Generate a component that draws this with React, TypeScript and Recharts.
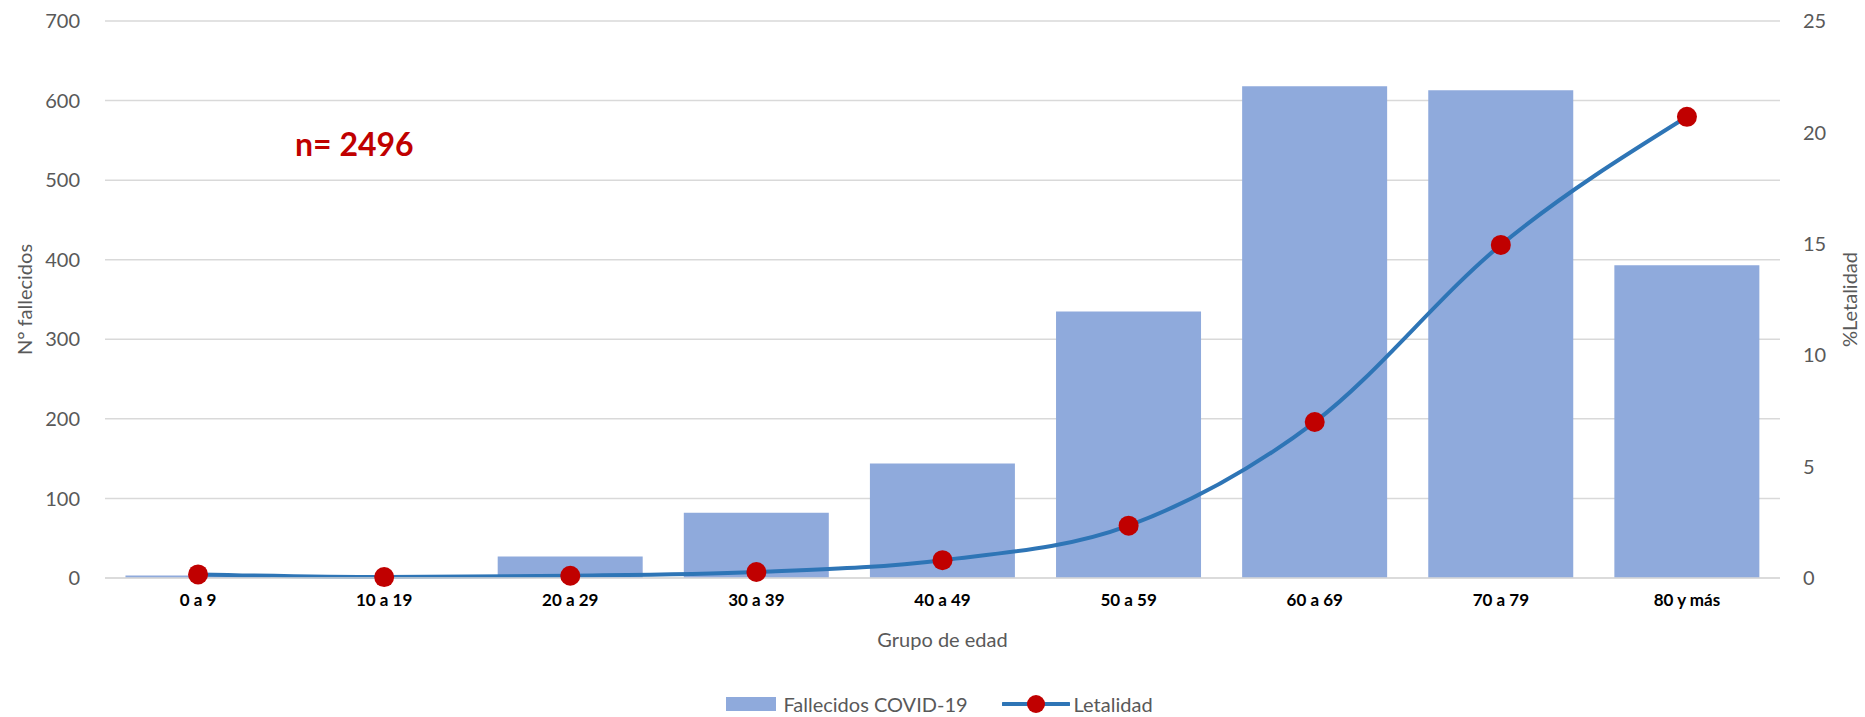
import React from 'react';
import { ComposedChart, Bar, Line, XAxis, YAxis, CartesianGrid, Legend } from 'recharts';

const grupos = ['0 a 9', '10 a 19', '20 a 29', '30 a 39', '40 a 49', '50 a 59', '60 a 69', '70 a 79', '80 y más'];
const fallecidos = [3, 1, 27, 82, 144, 335, 618, 613, 393];
const letalidad = [0.16, 0.04, 0.1, 0.27, 0.8, 2.35, 7.0, 14.95, 20.7];
const ticksIzq = [0, 100, 200, 300, 400, 500, 600, 700];
const ticksDer = [0, 5, 10, 15, 20, 25];

const data = grupos.map((g, i) => ({ name: g, fallecidos: fallecidos[i], letalidad: letalidad[i] }));

const gris = '#595959';
const fuente = 'Lato, "Open Sans", sans-serif';

const LeyendaCustom = () => (
    <div style={{ display: 'flex', alignItems: 'center', justifyContent: 'center', height: 26, fontFamily: fuente, fontSize: 20, color: gris, paddingLeft: 14 }}>
        <span style={{ display: 'inline-block', width: 50, height: 14, background: '#8faadc', marginRight: 7 }} />
        <span style={{ marginRight: 34 }}>Fallecidos COVID-19</span>
        <svg width={68} height={22} style={{ marginRight: 4 }}>
            <line x1={1} y1={11} x2={67} y2={11} stroke="#2e75b6" strokeWidth={4} strokeLinecap="round" />
            <circle cx={34} cy={11} r={9} fill="#c00000" />
        </svg>
        <span>Letalidad</span>
    </div>
);

export default function App() {
    return (
        <div style={{ position: 'absolute', left: 0, top: 0, width: 1865, height: 717, background: '#fff' }}>
            <ComposedChart width={1865} height={717} data={data} margin={{ top: 21, right: 0, bottom: 0, left: 0 }} barCategoryGap="11%">
                <CartesianGrid vertical={false} stroke="#d9d9d9" strokeWidth={1.5} yAxisId="izq" />
                <XAxis
                    dataKey="name"
                    height={113}
                    axisLine={{ stroke: '#d9d9d9', strokeWidth: 1.5 }}
                    tickLine={false}
                    tickMargin={10}
                    tick={{ fill: '#000', fontSize: 17, fontWeight: 700, fontFamily: fuente }}
                    label={{ value: 'Grupo de edad', position: 'insideBottom', offset: 44, fill: gris, fontSize: 20, fontFamily: fuente }}
                />
                <YAxis
                    yAxisId="izq"
                    width={105}
                    domain={[0, 700]}
                    ticks={ticksIzq}
                    axisLine={false}
                    tickLine={false}
                    tickMargin={19}
                    tick={{ fill: gris, fontSize: 20, fontFamily: fuente }}
                    label={{
                        content: ({ viewBox }: any) => (
                            <text x={viewBox.x + 24} y={viewBox.y + viewBox.height / 2} transform={`rotate(-90 ${viewBox.x + 24} ${viewBox.y + viewBox.height / 2})`} textAnchor="middle" dominantBaseline="central" fill={gris} fontSize={20} fontFamily={fuente}>
                                N° fallecidos
                            </text>
                        ),
                    }}
                />
                <YAxis
                    yAxisId="der"
                    orientation="right"
                    width={85}
                    domain={[0, 25]}
                    ticks={ticksDer}
                    axisLine={false}
                    tickLine={false}
                    tickMargin={17}
                    tick={{ fill: gris, fontSize: 20, fontFamily: fuente, textAnchor: 'start' }}
                    label={{
                        content: ({ viewBox }: any) => (
                            <text x={viewBox.x + 69} y={viewBox.y + viewBox.height / 2} transform={`rotate(-90 ${viewBox.x + 69} ${viewBox.y + viewBox.height / 2})`} textAnchor="middle" dominantBaseline="central" fill={gris} fontSize={20} fontFamily={fuente}>
                                %Letalidad
                            </text>
                        ),
                    }}
                />
                <Legend verticalAlign="bottom" content={<LeyendaCustom />} />
                <Bar yAxisId="izq" dataKey="fallecidos" name="Fallecidos COVID-19" fill="#8faadc" isAnimationActive={false} />
                <Line
                    yAxisId="der"
                    type="monotone"
                    dataKey="letalidad"
                    name="Letalidad"
                    stroke="#2e75b6"
                    strokeWidth={4}
                    dot={{ r: 10, fill: '#c00000', stroke: 'none' }}
                    activeDot={false}
                    isAnimationActive={false}
                />
            </ComposedChart>
            <div style={{ position: 'absolute', left: 295, top: 124, fontFamily: fuente, fontSize: 32, fontWeight: 700, color: '#c00000', lineHeight: '40px' }}>
                n= 2496
            </div>
        </div>
    );
}
